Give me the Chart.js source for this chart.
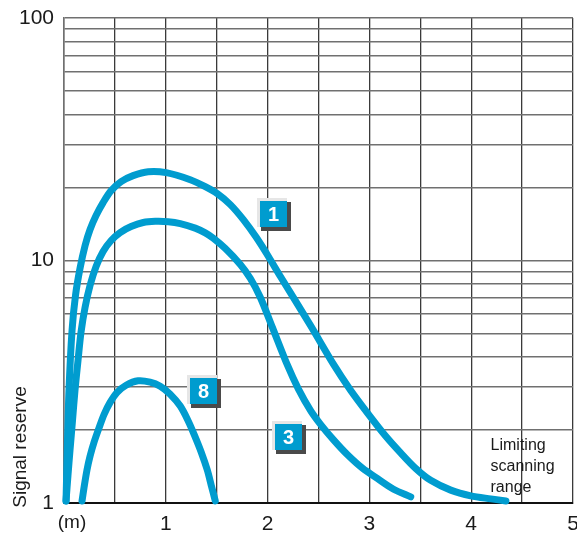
<!DOCTYPE html>
<html>
<head>
<meta charset="utf-8">
<script src="https://cdn.jsdelivr.net/npm/chart.js@4"></script>
<style>
  html, body { margin: 0; padding: 0; background: #fff; }
  #wrap { width: 577px; height: 534px; }
</style>
</head>
<body>
<div id="wrap"><canvas id="signalChart" width="577" height="534"></canvas></div>
<script>
// range in metres vs signal reserve
const curve1X = [0.02, 0.032, 0.049, 0.079, 0.113, 0.157, 0.207, 0.256, 0.315, 0.384, 0.463, 0.561, 0.679, 0.827, 1.004, 1.24, 1.388, 1.506, 1.634, 1.762, 1.89, 2.008, 2.126, 2.421, 2.648, 2.815, 2.982, 3.159, 3.307, 3.454, 3.602, 3.799, 3.996, 4.193, 4.341];
const curve1Y = [1.02, 1.65, 2.92, 5.15, 7.18, 9.27, 11.52, 13.42, 15.32, 17.33, 19.41, 21.14, 22.38, 23.24, 23.03, 21.54, 20.16, 18.87, 17.0, 14.74, 12.43, 10.39, 8.59, 5.4, 3.73, 2.92, 2.35, 1.89, 1.61, 1.39, 1.24, 1.13, 1.07, 1.04, 1.02];
const curve3X = [0.02, 0.039, 0.059, 0.084, 0.108, 0.138, 0.167, 0.207, 0.256, 0.315, 0.384, 0.463, 0.551, 0.659, 0.778, 0.896, 1.024, 1.142, 1.289, 1.388, 1.467, 1.585, 1.732, 1.831, 1.929, 2.047, 2.195, 2.303, 2.421, 2.52, 2.648, 2.785, 2.933, 3.081, 3.238, 3.406];
const curve3Y = [1.02, 1.3, 1.65, 2.2, 2.92, 3.88, 5.06, 6.41, 7.89, 9.45, 10.89, 12.09, 13.04, 13.8, 14.34, 14.5, 14.45, 14.2, 13.6, 13.0, 12.35, 11.2, 9.63, 8.43, 7.04, 5.3, 3.7, 2.95, 2.41, 2.11, 1.82, 1.58, 1.39, 1.26, 1.14, 1.06];
const curve8X = [0.177, 0.197, 0.226, 0.256, 0.295, 0.344, 0.394, 0.453, 0.522, 0.61, 0.728, 0.846, 0.945, 1.043, 1.142, 1.22, 1.28, 1.348, 1.407, 1.447, 1.486];
const curve8Y = [1.02, 1.16, 1.37, 1.56, 1.78, 2.04, 2.32, 2.6, 2.86, 3.06, 3.19, 3.15, 3.03, 2.81, 2.51, 2.18, 1.91, 1.62, 1.37, 1.18, 1.02];

const xTicks = [0, 0.5, 1, 1.5, 2, 2.5, 3, 3.5, 4, 4.5, 5];
const yTicks = [1, 2, 3, 4, 5, 6, 7, 8, 9, 10, 20, 30, 40, 50, 60, 70, 80, 90, 100];
const yLabels = [1, 10, 100];
const curveNames = ["1", "3", "8"];

const blue = "#009ccf";
const font = "'Liberation Sans', Arial, sans-serif";

function pts(xs, ys) {
  return xs.map((x, i) => ({ x: x, y: ys[i] }));
}

function line(name, xs, ys) {
  return {
    label: name,
    data: pts(xs, ys),
    borderColor: blue,
    borderWidth: 7,
    borderCapStyle: "round",
    borderJoinStyle: "round",
    pointRadius: 0,
    tension: 0.3,
    clip: false,
  };
}

// curve number boxes, extra axis texts
const extras = {
  id: "extras",
  afterDatasetsDraw(chart) {
    const ctx = chart.ctx;
    const xs = chart.scales.x;
    const ys = chart.scales.y;
    ctx.save();

    const boxes = [
      { t: curveNames[0], x: 2.06, y: 15.5 },
      { t: curveNames[1], x: 2.21, y: 1.87 },
      { t: curveNames[2], x: 1.37, y: 2.89 },
    ];
    boxes.forEach(b => {
      const cx = xs.getPixelForValue(b.x);
      const cy = ys.getPixelForValue(b.y);
      const w = 27, h = 26;
      const l = Math.round(cx - w / 2), t = Math.round(cy - h / 2);
      ctx.fillStyle = "#e6e6e6";
      ctx.fillRect(l - 3, t - 3, w + 3, h + 3);
      ctx.fillStyle = "#4a4a4a";
      ctx.fillRect(l + 1, t + 1, w + 3, h + 3);
      ctx.fillStyle = blue;
      ctx.fillRect(l, t, w, h);
      ctx.fillStyle = "#fff";
      ctx.font = "bold 20px " + font;
      ctx.textAlign = "center";
      ctx.textBaseline = "middle";
      ctx.fillText(b.t, l + w / 2, t + h / 2 + 1);
    });

    ctx.fillStyle = "#1a1a1a";
    ctx.font = "19px " + font;
    ctx.textAlign = "center";
    ctx.textBaseline = "middle";
    ctx.fillText("(m)", xs.getPixelForValue(0) + 8, chart.chartArea.bottom + 20);

    ctx.save();
    ctx.translate(21, chart.chartArea.bottom - 56);
    ctx.rotate(-Math.PI / 2);
    ctx.fillText("Signal reserve", 0, 0);
    ctx.restore();

    ctx.font = "16px " + font;
    ctx.textAlign = "left";
    const lx = xs.getPixelForValue(4.19);
    const ly = ys.getPixelForValue(1.73);
    ["Limiting", "scanning", "range"].forEach((s, i) => {
      ctx.fillText(s, lx, ly + i * 21);
    });
    ctx.restore();
  }
};

new Chart(document.getElementById("signalChart").getContext("2d"), {
  type: "line",
  data: {
    datasets: [
      line(curveNames[0], curve1X, curve1Y),
      line(curveNames[1], curve3X, curve3Y),
      line(curveNames[2], curve8X, curve8Y),
    ],
  },
  options: {
    responsive: false,
    animation: false,
    layout: { padding: { top: 18, right: 4, left: 0, bottom: 0 } },
    plugins: { legend: { display: false }, tooltip: { enabled: false } },
    scales: {
      x: {
        type: "linear",
        min: 0,
        max: 5,
        afterBuildTicks: s => { s.ticks = xTicks.map(v => ({ value: v })); },
        afterFit: s => { s.height = 31; s.paddingLeft = 0; s.paddingRight = 0; },
        ticks: {
          autoSkip: false,
          maxRotation: 0,
          padding: 9,
          color: "#1a1a1a",
          font: { family: font, size: 21 },
          callback: v => (Number.isInteger(v) && v > 0 ? String(v) : ""),
        },
        grid: { color: "#3a3a3a", lineWidth: 1.3, drawTicks: false },
        border: { color: "#111", width: 2 },
      },
      y: {
        type: "logarithmic",
        min: 1,
        max: 100,
        afterBuildTicks: s => { s.ticks = yTicks.map(v => ({ value: v })); },
        afterFit: s => { s.width = 64; s.paddingTop = 0; s.paddingBottom = 0; },
        ticks: {
          autoSkip: false,
          padding: 10,
          color: "#1a1a1a",
          font: { family: font, size: 21 },
          callback: v => (yLabels.includes(v) ? String(v) : ""),
        },
        grid: { color: "#707070", lineWidth: 1.6, drawTicks: false },
        border: { color: "#707070", width: 1.5 },
      },
    },
  },
  plugins: [extras],
});
</script>
</body>
</html>
